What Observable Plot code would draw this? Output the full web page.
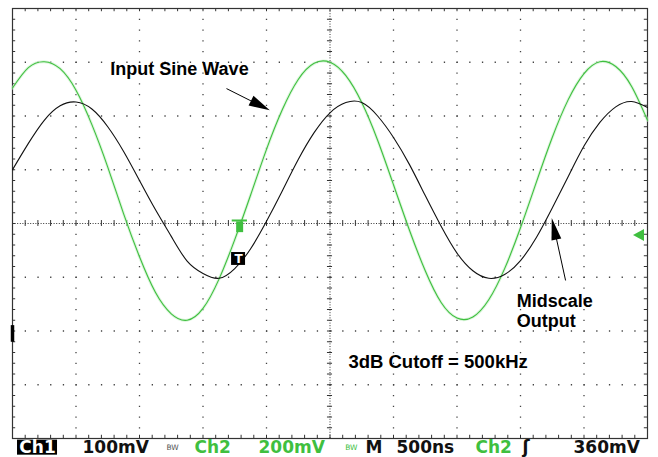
<!DOCTYPE html>
<html><head><meta charset="utf-8">
<script src="https://cdn.jsdelivr.net/npm/d3@7"></script>
<script src="https://cdn.jsdelivr.net/npm/@observablehq/plot@0.6"></script>
<style>body{margin:0;background:#fff} #chart svg{display:block;background:#fff}</style>
</head><body><div id="chart"></div>
<script>
// time in screen divisions (0.5 µs / div), values in vertical divisions
const timeDiv = [0,0.25,0.5,0.75,1,1.25,1.5,1.75,2,2.25,2.5,2.75,3,3.25,3.5,3.75,4,4.25,4.5,4.75,5,
  5.25,5.5,5.75,6,6.25,6.5,6.75,7,7.25,7.5,7.75,8,8.25,8.5,8.75,9,9.25,9.5,9.75,10];
const ch2Input = [2.52,2.90,3.01,2.88,2.48,1.84,1.05,0.18,-0.62,-1.28,-1.68,-1.80,-1.58,-1.04,-0.30,0.53,1.38,2.12,2.68,2.98,3.00,
  2.75,2.25,1.55,0.72,-0.12,-0.88,-1.47,-1.76,-1.74,-1.42,-0.84,-0.08,0.77,1.60,2.30,2.79,3.01,2.92,2.55,1.92];
const ch1Output = [1.00,1.49,1.92,2.19,2.26,2.13,1.80,1.34,0.80,0.26,-0.24,-0.70,-0.93,-1.02,-0.84,-0.47,0.04,0.61,1.19,1.69,2.06,
  2.25,2.25,2.00,1.60,1.10,0.52,-0.05,-0.55,-0.88,-1.02,-0.95,-0.69,-0.26,0.29,0.87,1.44,1.88,2.17,2.27,2.16];
const statusLabels = ["Ch1","100mV","Ch2","200mV","M","500ns","Ch2","360mV"];
const bwLabel = "BW";
const annotations = ["Input Sine Wave","Midscale\nOutput","3dB Cutoff = 500kHz"];
const triggerLabel = "T";

const input = timeDiv.map((t,i)=>({t, v: ch2Input[i]}));
const output = timeDiv.map((t,i)=>({t, v: ch1Output[i]}));

const GREEN = "#3fbf3f";
const SANS = "Liberation Sans, Arial, sans-serif";
const SCOPE = "DejaVu Sans, sans-serif";

const majorX = d3.range(1, 10).filter(d => d !== 5);
const majorY = d3.range(-3, 4).filter(d => d !== 0);
const minorX = d3.range(0, 10.001, 0.2);
const minorY = d3.range(-4, 4.001, 0.2);

function label(text, x, y, opts) {
  return Plot.text([0], {x: [x], y: [y], text: [text], lineAnchor: "middle", ...opts});
}

// filled arrowheads drawn through the plot's scales
const heads = [
  {x1: 3.37, y1: 2.51, x2: 4.06, y2: 2.10, len: 21, w: 11, fill: "black"},
  {x1: 8.71, y1: -1.06, x2: 8.50, y2: 0.093, len: 22, w: 10, fill: "black"},
  {x1: 9.99, y1: -0.223, x2: 9.78, y2: -0.223, len: 11, w: 12, fill: GREEN}
];
function arrowHeads(index, scales) {
  const sx = typeof scales.x === "function" ? scales.x : v => scales.scales.x.apply(v);
  const sy = typeof scales.y === "function" ? scales.y : v => scales.scales.y.apply(v);
  const g = d3.create("svg:g");
  for (const a of heads) {
    const x1 = sx(a.x1), y1 = sy(a.y1), x2 = sx(a.x2), y2 = sy(a.y2);
    const L = Math.hypot(x2 - x1, y2 - y1), ux = (x2 - x1) / L, uy = (y2 - y1) / L;
    const bx = x2 - ux * a.len, by = y2 - uy * a.len;
    const px = -uy * a.w / 2, py = ux * a.w / 2;
    g.append("path")
      .attr("d", `M${x2},${y2}L${bx + px},${by + py}L${bx - px},${by - py}Z`)
      .attr("fill", a.fill);
  }
  return g.node();
}

const chart = Plot.plot({
  width: 658,
  height: 457,
  marginLeft: 12,
  marginRight: 11,
  marginTop: 8,
  marginBottom: 19,
  x: {domain: [0, 10], axis: null},
  y: {domain: [-4, 4], axis: null},
  marks: [
    // graticule
    Plot.ruleX(majorX, {stroke: "#444", strokeWidth: 1.3, strokeDasharray: "1.3 9.45"}),
    Plot.ruleY(majorY, {stroke: "#444", strokeWidth: 1.3, strokeDasharray: "1.3 11.4"}),
    Plot.ruleX([5], {stroke: "#333", strokeDasharray: "1 1.6"}),
    Plot.ruleY([0], {stroke: "#333", strokeDasharray: "1 1.6"}),
    Plot.ruleX(minorX, {x: d => d, y1: -0.055, y2: 0.055, stroke: "#333"}),
    Plot.ruleY(minorY, {y: d => d, x1: 4.96, x2: 5.04, stroke: "#333"}),
    Plot.ruleX(minorX, {x: d => d, y1: 4, y2: 3.94, stroke: "#333"}),
    Plot.ruleX(minorX, {x: d => d, y1: -4, y2: -3.94, stroke: "#333"}),
    Plot.ruleY(minorY, {y: d => d, x1: 0, x2: 0.05, stroke: "#333"}),
    Plot.ruleY(minorY, {y: d => d, x1: 9.95, x2: 10, stroke: "#333"}),
    Plot.frame({stroke: "#333", strokeWidth: 1.2}),

    // traces
    Plot.line(input, {x: "t", y: "v", curve: "natural", stroke: "#c8f0c8", strokeWidth: 3, strokeOpacity: 0.6}),
    Plot.line(input, {x: "t", y: "v", curve: "natural", stroke: GREEN, strokeWidth: 1.1}),
    Plot.line(output, {x: "t", y: "v", curve: "natural", stroke: "#111", strokeWidth: 1.1}),

    // trigger marks
    Plot.ruleY([0.056], {x1: 3.46, x2: 3.70, stroke: GREEN, strokeWidth: 2}),
    Plot.rect([0], {x1: [3.53], x2: [3.64], y1: [0.03], y2: [-0.17], fill: GREEN}),
    Plot.rect([0], {x1: [3.45], x2: [3.67], y1: [-0.54], y2: [-0.78], fill: "#000"}),
    label(triggerLabel, 3.56, -0.66, {fill: "white", fontFamily: SCOPE, fontWeight: "bold", fontSize: 12}),
    Plot.ruleX([0], {y1: -1.90, y2: -2.21, stroke: "#000", strokeWidth: 3.5}),

    // annotations
    Plot.link([0], {x1: [3.37], y1: [2.51], x2: [3.85], y2: [2.225], stroke: "#000", strokeWidth: 1}),
    Plot.link([0], {x1: [8.71], y1: [-1.06], x2: [8.56], y2: [-0.25], stroke: "#000", strokeWidth: 1}),
    arrowHeads,
    label(annotations[0], 1.54, 2.87, {textAnchor: "start", fontFamily: SANS, fontWeight: "bold", fontSize: 18, fill: "#000"}),
    label(annotations[1], 7.94, -1.62, {textAnchor: "start", fontFamily: SANS, fontWeight: "bold", fontSize: 18, lineHeight: 1.1, fill: "#000"}),
    label(annotations[2], 5.29, -2.58, {textAnchor: "start", fontFamily: SANS, fontWeight: "bold", fontSize: 18.5, fill: "#000"}),

    // status bar
    Plot.rect([0], {x1: [0.079], x2: [0.709], y1: [-4.03], y2: [-4.31], fill: "#000"}),
    label(statusLabels[0], 0.394, -4.167, {fill: "white", fontFamily: SCOPE, fontWeight: "bold", fontSize: 17}),
    label(statusLabels[1], 1.102, -4.167, {textAnchor: "start", fill: "#111", fontFamily: SCOPE, fontWeight: "bold", fontSize: 17}),
    label(bwLabel, 2.425, -4.16, {textAnchor: "start", fill: "#555", fontFamily: SCOPE, fontSize: 7.5}),
    label(statusLabels[2], 2.866, -4.167, {textAnchor: "start", fill: GREEN, fontFamily: SCOPE, fontWeight: "bold", fontSize: 17}),
    label(statusLabels[3], 3.874, -4.167, {textAnchor: "start", fill: GREEN, fontFamily: SCOPE, fontWeight: "bold", fontSize: 17}),
    label(bwLabel, 5.24, -4.16, {textAnchor: "start", fill: GREEN, fontFamily: SCOPE, fontSize: 7.5}),
    label(statusLabels[4], 5.559, -4.167, {textAnchor: "start", fill: "#111", fontFamily: SCOPE, fontWeight: "bold", fontSize: 17}),
    label(statusLabels[5], 6.047, -4.167, {textAnchor: "start", fill: "#111", fontFamily: SCOPE, fontWeight: "bold", fontSize: 17}),
    label(statusLabels[6], 7.291, -4.167, {textAnchor: "start", fill: GREEN, fontFamily: SCOPE, fontWeight: "bold", fontSize: 17}),
    label("ʃ", 8.03, -4.167, {textAnchor: "start", fill: "#111", fontFamily: SCOPE, fontWeight: "bold", fontSize: 17}),
    label(statusLabels[7], 8.835, -4.167, {textAnchor: "start", fill: "#111", fontFamily: SCOPE, fontWeight: "bold", fontSize: 17})
  ]
});
document.getElementById("chart").append(chart);
</script>
</body></html>
